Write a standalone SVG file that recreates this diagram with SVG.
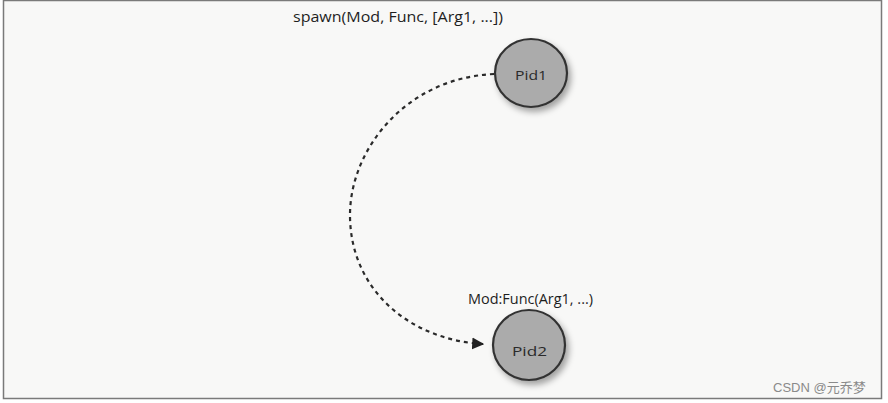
<svg xmlns="http://www.w3.org/2000/svg" width="888" height="403" viewBox="0 0 888 403">
  <defs>
    <style>
      .lbl { font-family: "Open Sans", "Liberation Sans", sans-serif; font-size: 14px; fill: #1e1e1e; }
      .pid { font-family: "Open Sans", "Liberation Sans", sans-serif; font-size: 13px; fill: #2a2a2a; }
      .node { fill: #ababab; stroke: #333; stroke-width: 2.2; }
      .conn { fill: none; stroke: #2a2a2a; stroke-width: 2.2; stroke-dasharray: 4 4; }
      .wm { font-family: "Liberation Sans", "Noto Sans CJK SC", sans-serif; font-size: 13px; fill: #8a8a8a; }
    </style>
    <filter id="sh" x="-30%" y="-30%" width="170%" height="170%">
      <feDropShadow dx="3" dy="4" stdDeviation="3" flood-color="#000" flood-opacity="0.35"/>
    </filter>
    <marker id="arr" viewBox="0 0 10 10" refX="9" refY="5" markerWidth="12" markerHeight="13" markerUnits="userSpaceOnUse" orient="auto">
      <path d="M0,0 L10,5 L0,10 Z" fill="#222"/>
    </marker>
  </defs>
  <rect x="0" y="0" width="888" height="403" fill="#ffffff"/>
  <rect x="3.5" y="0.5" width="878" height="398" fill="#f8f8f7" stroke="#7a7a7a" stroke-width="1.5"/>

  <g id="connectors">
    <path class="conn" d="M 494 74 C 405 78, 350 150, 350 215 C 350 290, 410 340, 483 344" marker-end="url(#arr)"/>
  </g>

  <g id="label-spawn">
    <text class="lbl" x="293" y="22" textLength="210" lengthAdjust="spacingAndGlyphs">spawn(Mod, Func, [Arg1, ...])</text>
  </g>

  <g id="pid1">
    <ellipse class="node" cx="531" cy="73" rx="36" ry="34" filter="url(#sh)"/>
    <text class="pid" x="515" y="80" textLength="32" lengthAdjust="spacingAndGlyphs">Pid1</text>
  </g>

  <g id="label-modfunc">
    <text class="lbl" x="468" y="304" textLength="125" lengthAdjust="spacingAndGlyphs">Mod:Func(Arg1, ...)</text>
  </g>

  <g id="pid2">
    <ellipse class="node" cx="529" cy="345" rx="36" ry="35" filter="url(#sh)"/>
    <text class="pid" x="512" y="356" textLength="35" lengthAdjust="spacingAndGlyphs">Pid2</text>
  </g>

  <text class="wm" x="773" y="392">CSDN @元乔梦</text>
</svg>
